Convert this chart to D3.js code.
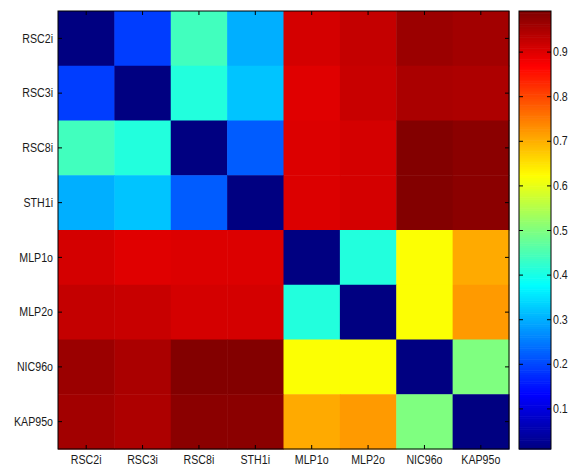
<!DOCTYPE html>
<html lang="en">
<head>
  <meta charset="UTF-8">
  <title>Correlation heatmap</title>
  <script src="https://d3js.org/d3.v7.min.js"></script>
  <style>
    body { margin: 0; padding: 0; background: #fff; }
    svg { display: block; }
    text { font-family: "Liberation Sans", Arial, sans-serif; font-size: 13px; fill: #1a1a1a; }
    .domain { display: none; }
    .tick line { stroke: #000; stroke-width: 1; }
  </style>
</head>
<body>
<svg id="chart" width="573" height="468"></svg>

<script>
  // names of the rows / columns
  const labels = ["RSC2i", "RSC3i", "RSC8i", "STH1i", "MLP1o", "MLP2o", "NIC96o", "KAP95o"];

  // one row per protein
  const rsc2i  = [0.01, 0.19, 0.44, 0.30, 0.91, 0.925, 0.965, 0.958];
  const rsc3i  = [0.19, 0.01, 0.41, 0.32, 0.898, 0.921, 0.95, 0.947];
  const rsc8i  = [0.44, 0.41, 0.01, 0.22, 0.902, 0.91, 0.988, 0.98];
  const sth1i  = [0.30, 0.32, 0.22, 0.01, 0.902, 0.91, 0.988, 0.98];
  const mlp1o  = [0.91, 0.898, 0.902, 0.902, 0.01, 0.41, 0.62, 0.705];
  const mlp2o  = [0.925, 0.921, 0.91, 0.91, 0.41, 0.01, 0.62, 0.72];
  const nic96o = [0.965, 0.95, 0.988, 0.988, 0.62, 0.62, 0.01, 0.50];
  const kap95o = [0.958, 0.947, 0.98, 0.98, 0.705, 0.72, 0.50, 0.01];

  const colorTicks = [0.1, 0.2, 0.3, 0.4, 0.5, 0.6, 0.7, 0.8, 0.9];
  const colorDomain = [0.009, 0.991];

  const matrix = [rsc2i, rsc3i, rsc8i, sth1i, mlp1o, mlp2o, nic96o, kap95o];
  const cells = [];
  matrix.forEach((row, i) => row.forEach((v, j) => cells.push({ row: labels[i], col: labels[j], v })));

  // matlab jet
  function jet(t) {
    const c = x => Math.max(0, Math.min(1, x));
    const r = c(1.5 - Math.abs(4 * t - 3));
    const g = c(1.5 - Math.abs(4 * t - 2));
    const b = c(1.5 - Math.abs(4 * t - 1));
    return d3.rgb(r * 255, g * 255, b * 255).toString();
  }
  const color = d3.scaleSequential(jet).domain(colorDomain);

  const svg = d3.select("#chart");
  const mLeft = 58, mTop = 11, mRight = 509, mBottom = 449;
  const sx = 0.82; // labels look horizontally squeezed

  const x = d3.scaleBand().domain(labels).range([mLeft, mRight]);
  const y = d3.scaleBand().domain(labels).range([mTop, mBottom]);

  svg.append("g")
    .selectAll("rect")
    .data(cells)
    .enter().append("rect")
      .attr("x", d => x(d.col))
      .attr("y", d => y(d.row))
      .attr("width", x.bandwidth() + 0.5)
      .attr("height", y.bandwidth() + 0.5)
      .attr("fill", d => color(d.v));

  // axes, ticks pointing inward like matlab
  const yAxis = svg.append("g")
      .attr("transform", `translate(${mLeft},0)`)
      .call(d3.axisLeft(y).tickSizeInner(-4).tickSizeOuter(0).tickPadding(5));
  yAxis.selectAll("text")
      .attr("x", -5 / sx)
      .attr("transform", `scale(${sx},1)`);

  const xAxis = svg.append("g")
      .attr("transform", `translate(0,${mBottom})`)
      .call(d3.axisBottom(x).tickSizeInner(-4).tickSizeOuter(0).tickPadding(6));
  xAxis.selectAll("text")
      .attr("transform", `scale(${sx},1)`);

  svg.append("g")
      .attr("transform", `translate(0,${mTop})`)
      .call(d3.axisTop(x).tickSizeInner(-4).tickSizeOuter(0).tickFormat(""));
  svg.append("g")
      .attr("transform", `translate(${mRight},0)`)
      .call(d3.axisRight(y).tickSizeInner(-4).tickSizeOuter(0).tickFormat(""));

  svg.append("rect")
      .attr("x", mLeft).attr("y", mTop)
      .attr("width", mRight - mLeft).attr("height", mBottom - mTop)
      .attr("fill", "none").attr("stroke", "#000");

  // colorbar
  const cbLeft = 519, cbRight = 551;
  const cy = d3.scaleLinear().domain(colorDomain).range([mBottom, mTop]);
  const steps = d3.range(0, 200);
  const stepV = (colorDomain[1] - colorDomain[0]) / steps.length;
  svg.append("g")
    .selectAll("rect")
    .data(steps)
    .enter().append("rect")
      .attr("x", cbLeft)
      .attr("width", cbRight - cbLeft)
      .attr("y", i => cy(colorDomain[0] + (i + 1) * stepV))
      .attr("height", (mBottom - mTop) / steps.length + 0.6)
      .attr("fill", i => color(colorDomain[0] + (i + 0.5) * stepV));

  const cbAxis = svg.append("g")
      .attr("transform", `translate(${cbRight},0)`)
      .call(d3.axisRight(cy).tickValues(colorTicks).tickFormat(d3.format(".1f"))
        .tickSizeInner(-4).tickSizeOuter(0).tickPadding(2));
  cbAxis.selectAll("text")
      .attr("x", 2 / sx)
      .attr("transform", `scale(${sx},1)`);

  svg.append("g")
      .attr("transform", `translate(${cbLeft},0)`)
      .call(d3.axisLeft(cy).tickValues(colorTicks).tickSizeInner(-4).tickSizeOuter(0).tickFormat(""));

  svg.append("rect")
      .attr("x", cbLeft).attr("y", mTop)
      .attr("width", cbRight - cbLeft).attr("height", mBottom - mTop)
      .attr("fill", "none").attr("stroke", "#000");
</script>
</body>
</html>
